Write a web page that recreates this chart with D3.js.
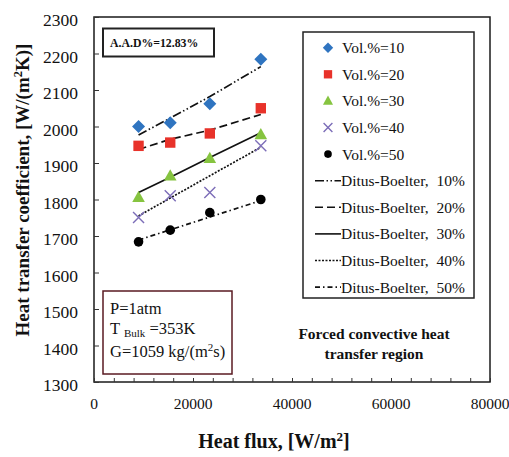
<!DOCTYPE html>
<html><head><meta charset="utf-8">
<script src="https://cdn.jsdelivr.net/npm/d3@7"></script>
<style>body{margin:0;background:#fff}svg{display:block}text{font-family:"Liberation Serif","Tinos","Times New Roman","DejaVu Serif","Noto Serif",serif}</style>
</head><body>
<svg id="c" width="509" height="457"></svg>
<script>
const xFlux = [9000, 15400, 23400, 33700];
const vol10 = [2000, 2010, 2062, 2184];
const vol20 = [1947, 1956, 1981, 2050];
const vol30 = [1806, 1865, 1913, 1978];
const vol40 = [1751, 1810, 1819, 1947];
const vol50 = [1684, 1716, 1764, 1800];
const db10 = [1977, 2023, 2082, 2164];
const db20 = [1937, 1965, 1990, 2033];
const db30 = [1819, 1861, 1915, 1983];
const db40 = [1755, 1804, 1865, 1943];
const db50 = [1689, 1717, 1752, 1797];
const xTicks = [0, 20000, 40000, 60000, 80000];
const yTicks = [1300,1400,1500,1600,1700,1800,1900,2000,2100,2200,2300];
const volLabels = ["Vol.%=10","Vol.%=20","Vol.%=30","Vol.%=40","Vol.%=50"];
const dbLabels = ["Ditus-Boelter,  10%","Ditus-Boelter,  20%","Ditus-Boelter,  30%","Ditus-Boelter,  40%","Ditus-Boelter,  50%"];

const svg = d3.select("#c");
const L=94, R=490, T=17, B=382;
const x = d3.scaleLinear().domain([0,80000]).range([L,R]);
const y = d3.scaleLinear().domain([1300,2300]).range([B,T]);

// frame
svg.append("rect").attr("x",L).attr("y",T).attr("width",R-L).attr("height",B-T)
  .attr("fill","none").attr("stroke","#1a1a1a").attr("stroke-width",1.5);

// axes
const xa = svg.append("g").attr("transform",`translate(0,${B})`)
  .call(d3.axisBottom(x).tickValues(d3.range(0,80001,4000)).tickSize(-4).tickFormat(""));
xa.select(".domain").remove();
xa.selectAll("line").attr("stroke","#333");
const ya = svg.append("g").attr("transform",`translate(${L},0)`)
  .call(d3.axisLeft(y).tickValues(yTicks).tickSize(-5).tickFormat(""));
ya.select(".domain").remove();
ya.selectAll("line").attr("stroke","#333");

svg.selectAll(".xl").data(xTicks).enter().append("text")
  .attr("x",d=>x(d)).attr("y",B+27).attr("text-anchor","middle")
  .attr("font-size",15.5).attr("fill","#111").text(d=>d);
svg.selectAll(".yl").data(yTicks).enter().append("text")
  .attr("x",78).attr("y",d=>y(d)+9).attr("text-anchor","end")
  .attr("font-size",17.5).attr("fill","#111").text(d=>d);

// axis titles
const xt = svg.append("text").attr("x",274).attr("y",448).attr("text-anchor","middle")
  .attr("font-weight","bold").attr("font-size",20).attr("fill","#111");
xt.append("tspan").text("Heat flux, [W/m");
xt.append("tspan").attr("font-size",13).attr("dy",-7).text("2");
xt.append("tspan").attr("dy",7).text("]");
const yt = svg.append("text").attr("transform","translate(29,190) rotate(-90)").attr("text-anchor","middle")
  .attr("font-weight","bold").attr("font-size",19).attr("fill","#111");
yt.append("tspan").text("Heat transfer coefficient, [W/(m");
yt.append("tspan").attr("font-size",12.5).attr("dy",-7).text("2");
yt.append("tspan").attr("dy",7).text("K)]");

// lines
const dbSeries = [db10, db20, db30, db40, db50];
const dashes = ["9,2.5,1.5,2.5,1.5,2.5","8,4",null,"2,1.5","5,3,1.5,3"];
const lineGen = d3.line().x((d,i)=>x(xFlux[i])).y(d=>y(d));
dbSeries.forEach((s,k)=>{
  svg.append("path").datum(s).attr("d",lineGen).attr("fill","none")
    .attr("stroke","#111").attr("stroke-width",1.7)
    .attr("stroke-dasharray",dashes[k]);
});

// markers
const colors = ["#2f74c0","#e8322a","#86c440","#7c6db8","#000"];
function drawMarker(g, k, cx, cy, scale){
  scale = scale||1;
  let d;
  if(k===0){ const s=6.5*scale; d=`M${cx},${cy-s}L${cx+s},${cy}L${cx},${cy+s}L${cx-s},${cy}Z`; }
  else if(k===1){ const s=5.2*scale; d=`M${cx-s},${cy-s}H${cx+s}V${cy+s}H${cx-s}Z`; }
  else if(k===2){ const s=6.3*scale; d=`M${cx},${cy-s*1.05}L${cx+s},${cy+s*0.75}L${cx-s},${cy+s*0.75}Z`; }
  else if(k===4){ g.append("circle").attr("cx",cx).attr("cy",cy).attr("r",4.8*scale).attr("fill",colors[k]); return; }
  if(k===3){
    const s=5.5*scale;
    g.append("path").attr("d",`M${cx-s},${cy-s}L${cx+s},${cy+s}M${cx-s},${cy+s}L${cx+s},${cy-s}`)
      .attr("stroke",colors[k]).attr("stroke-width",1.4).attr("fill","none");
  } else {
    g.append("path").attr("d",d).attr("fill",colors[k]);
  }
}
const volSeries = [vol10, vol20, vol30, vol40, vol50];
const mg = svg.append("g");
volSeries.forEach((s,k)=>{
  s.forEach((v,i)=>drawMarker(mg,k,x(xFlux[i]),y(v)));
});

// A.A.D box
svg.append("rect").attr("x",103).attr("y",28.5).attr("width",111).attr("height",28)
  .attr("fill","#fff").attr("stroke","#222").attr("stroke-width",2);
svg.append("text").attr("x",110).attr("y",46.5).attr("font-weight","bold")
  .attr("font-size",11.8).attr("fill","#111").text("A.A.D%=12.83%");

// P box
svg.append("rect").attr("x",103).attr("y",291).attr("width",129).attr("height",83)
  .attr("fill","#fff").attr("stroke","#5a1a22").attr("stroke-width",1.5);
svg.append("text").attr("x",110).attr("y",314).attr("font-size",16.5).attr("fill","#111").text("P=1atm");
const tb = svg.append("text").attr("x",110).attr("y",334).attr("font-size",16.5).attr("fill","#111");
tb.append("tspan").text("T ");
tb.append("tspan").attr("font-size",11).attr("dy",3).text("Bulk");
tb.append("tspan").attr("dy",-3).text(" =353K");
const gt = svg.append("text").attr("x",110).attr("y",357).attr("font-size",16.5).attr("fill","#111");
gt.append("tspan").text("G=1059 kg/(m");
gt.append("tspan").attr("font-size",11).attr("dy",-6).text("2");
gt.append("tspan").attr("dy",6).text("s)");

// region text
svg.append("text").attr("x",374).attr("y",339).attr("text-anchor","middle")
  .attr("font-weight","bold").attr("font-size",15.5).attr("fill","#111").text("Forced convective heat");
svg.append("text").attr("x",374).attr("y",359).attr("text-anchor","middle")
  .attr("font-weight","bold").attr("font-size",15.5).attr("fill","#111").text("transfer region");

// legend
svg.append("rect").attr("x",303).attr("y",32).attr("width",171).attr("height",266)
  .attr("fill","#fff").attr("stroke","#222").attr("stroke-width",1.5);
const lg = svg.append("g");
const rowY = i => 47.7 + i*26.6;
volLabels.forEach((t,k)=>{
  drawMarker(lg,k,328,rowY(k),k===3?0.8:0.8);
  lg.append("text").attr("x",342).attr("y",rowY(k)+5.5)
    .attr("font-size",15.5).attr("fill","#111").text(t);
});
dbLabels.forEach((t,k)=>{
  const yy = rowY(k+5);
  lg.append("line").attr("x1",315).attr("x2",341).attr("y1",yy).attr("y2",yy)
    .attr("stroke","#111").attr("stroke-width",1.6).attr("stroke-dasharray",dashes[k]);
  lg.append("text").attr("x",341).attr("y",yy+5.5)
    .attr("font-size",15.5).attr("fill","#111").style("white-space","pre").text(t);
});
</script>
</body></html>
